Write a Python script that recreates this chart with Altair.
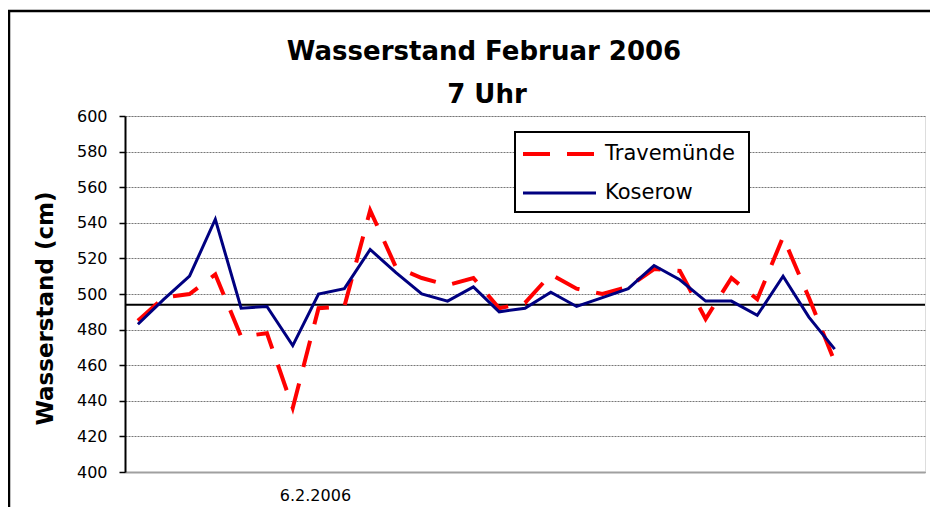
import altair as alt
import pandas as pd

# ---- data ----
days = [1, 2, 3, 4, 5, 6, 7, 8, 9, 10, 11, 12, 13, 14,
        15, 16, 17, 18, 19, 20, 21, 22, 23, 24, 25, 26, 27, 28]
travemuende = [485, 498, 500, 511, 476, 478, 436, 492, 493, 547,
               515, 509, 505, 509, 492, 495, 511, 503, 500, 504,
               514, 513, 486, 509, 497, 532, 498, 462]
koserow = [483, 497, 510, 542, 492, 493, 471, 500, 503, 525,
           512, 500, 496, 504, 490, 492, 501, 493, 498, 503,
           516, 508, 496, 496, 488, 510, 487, 469]
stations = ["Travemünde", "Koserow"]
colors = ["#FF0000", "#000080"]
ref_level = [494]
y_ticks = [400, 420, 440, 460, 480, 500, 520, 540, 560, 580, 600]
x_label_pos = [7.86]
x_labels = ["6.2.2006"]
title_lines = ["Wasserstand Februar 2006", "7 Uhr"]
y_title = "Wasserstand (cm)"

df = pd.DataFrame({
    "day": days * 2,
    "station": [stations[0]] * len(days) + [stations[1]] * len(days),
    "value": travemuende + koserow,
})

label_map = "{" + ",".join(f"'{p}':'{t}'" for p, t in zip(x_label_pos, x_labels)) + "}"

x_enc = alt.X("day:Q", scale=alt.Scale(domain=[0.5, 31.5], nice=False, zero=False),
              axis=alt.Axis(values=x_label_pos, labelExpr=f"{label_map}[datum.value] || ''",
                            title=None, grid=False, ticks=False, labelPadding=15,
                            domainColor="#a0a0a0", domainWidth=2, labelOverlap=False,
                            labelFontSize=16, labelColor="black", labelFont="DejaVu Sans"))
y_enc = alt.Y("value:Q", scale=alt.Scale(domain=[400, 600], nice=False, zero=False),
              axis=alt.Axis(values=y_ticks, title=y_title, titleFont="DejaVu Sans",
                            titleFontSize=23, titleFontWeight="bold", titleColor="black",
                            titleX=-80, titleY=192, titleAlign="center", titleBaseline="middle",
                            labelFontSize=16, labelColor="black", labelFont="DejaVu Sans",
                            labelOverlap=False, labelFlush=False,
                            labelPadding=12, tickSize=6, tickColor="black", tickWidth=1.5,
                            domainColor="black", domainWidth=2,
                            grid=True, gridColor="#777777", gridDash=[2, 1], gridWidth=1))

base = alt.Chart(df)

ref = alt.Chart(pd.DataFrame({"value": ref_level})).mark_rule(
    color="black", strokeWidth=2).encode(y=y_enc)

red = base.transform_filter(alt.datum.station == stations[0]).mark_line(
    color=colors[0], strokeWidth=4, strokeDash=[27, 17]).encode(x=x_enc, y=y_enc)
blue = base.transform_filter(alt.datum.station == stations[1]).mark_line(
    color=colors[1], strokeWidth=3).encode(x=x_enc, y=y_enc)

one = pd.DataFrame({"k": [0]})
legend_box = alt.Chart(one).mark_rect(fill="white", stroke="black", strokeWidth=2).encode(
    x=alt.value(390), x2=alt.value(624), y=alt.value(16), y2=alt.value(96))

legend_layers = []
for i, name in enumerate(stations):
    ly = 38 + 39 * i
    d = pd.DataFrame({"name": [name]})
    if i == 0:
        ln = alt.Chart(d).mark_rule(color=colors[i], strokeWidth=4, strokeDash=[27, 17])
    else:
        ln = alt.Chart(d).mark_rule(color=colors[i], strokeWidth=3)
    legend_layers.append(ln.encode(x=alt.value(398), x2=alt.value(471), y=alt.value(ly)))
    legend_layers.append(alt.Chart(d).mark_text(
        align="left", baseline="middle", fontSize=21, font="DejaVu Sans", color="black"
    ).encode(x=alt.value(480), y=alt.value(ly), text="name:N"))

t1 = alt.Chart(pd.DataFrame({"t": [title_lines[0]]})).mark_text(
    align="center", baseline="middle", fontSize=26, fontWeight="bold",
    font="DejaVu Sans", color="black").encode(x=alt.value(359), y=alt.value(-64), text="t:N")
t2 = alt.Chart(pd.DataFrame({"t": [title_lines[1]]})).mark_text(
    align="center", baseline="middle", fontSize=26, fontWeight="bold",
    font="DejaVu Sans", color="black").encode(x=alt.value(362), y=alt.value(-21), text="t:N")

frame = alt.Chart(one).mark_rect(filled=False, stroke="black", strokeWidth=2.5).encode(
    x=alt.value(-116), x2=alt.value(830), y=alt.value(-105), y2=alt.value(420))

chart = alt.layer(ref, red, blue, legend_box, *legend_layers, t1, t2, frame).properties(
    width=800, height=356,
    autosize=alt.AutoSizeParams(type="none"),
    padding={"left": 117, "top": 108, "right": 5, "bottom": 35},
).configure_view(stroke="#a0a0a0", strokeWidth=2).configure_axisY(
    labelOverlap=False, labelFontSize=16, labelFont="DejaVu Sans"
).configure(background="white")

chart.save("out.html", embed_options={"renderer": "svg", "actions": False})
